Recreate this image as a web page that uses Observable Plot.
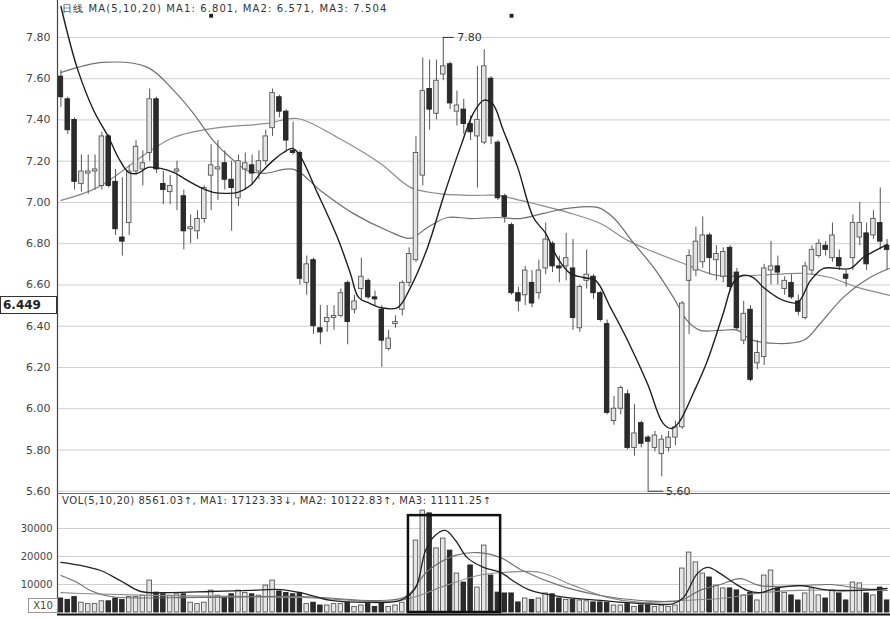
<!DOCTYPE html>
<html>
<head>
<meta charset="utf-8">
<script src="https://cdn.jsdelivr.net/npm/d3@7"></script>
<script src="https://cdn.jsdelivr.net/npm/@observablehq/plot@0.6"></script>
<style>
  html, body { margin: 0; padding: 0; background: #fff; }
  #wrap { position: relative; width: 890px; height: 620px; overflow: hidden; font-family: "DejaVu Sans", sans-serif; }
  #wrap svg { display: block; }
  .hdr { position: absolute; font-size: 10px; color: #333; white-space: nowrap; }
  .box { position: absolute; border: 1px solid #333; background: #fff; box-sizing: border-box; white-space: nowrap; }
</style>
</head>
<body>
<div id="wrap"></div>
<script>
// ---- price data (per trading day) ----
const opens  = [7.61,7.50,7.40,7.09,7.14,7.15,7.08,7.32,7.10,6.83, 6.90,7.15,7.16,7.24,7.50,7.09,7.05,7.15,7.03,6.87,
                6.86,6.92,7.13,7.16,7.19,7.11,7.02,7.16,7.18,7.15, 7.20,7.36,7.51,7.44,7.25,7.24,6.61,6.72,6.39,6.42,
                6.44,6.45,6.61,6.48,6.58,6.62,6.54,6.48,6.29,6.41, 6.48,6.61,6.72,7.13,7.55,7.43,7.62,7.67,7.44,7.45,
                7.38,7.32,7.29,7.60,7.29,7.03,6.89,6.56,6.55,6.61, 6.56,6.68,6.80,6.69,6.69,6.68,6.39,6.62,6.64,6.56,
                6.41,5.94,6.00,6.07,5.81,5.93,5.86,5.81,5.78,5.81, 5.86,5.91,6.62,6.67,6.71,6.84,6.72,6.64,6.78,6.66,
                6.33,6.48,6.22,6.25,6.67,6.69,6.58,6.61,6.52,6.44, 6.67,6.74,6.79,6.73,6.73,6.65,6.73,6.83,6.85,6.84,
                6.90,6.79];
const highs  = [7.64,7.51,7.41,7.23,7.23,7.23,7.34,7.33,7.16,7.12, 7.18,7.30,7.25,7.55,7.51,7.15,7.13,7.20,7.06,6.94,
                6.96,7.08,7.28,7.30,7.25,7.20,7.23,7.24,7.23,7.25, 7.35,7.55,7.52,7.45,7.39,7.25,6.74,6.73,6.50,6.50,
                6.50,6.58,6.62,6.55,6.73,6.63,6.57,6.50,6.38,6.45, 6.62,6.78,7.32,7.70,7.69,7.69,7.80,7.68,7.54,7.50,
                7.42,7.66,7.74,7.61,7.30,7.04,6.90,6.59,6.69,6.67, 6.72,6.90,6.81,6.74,6.85,6.82,6.60,6.77,6.65,6.57,
                6.43,6.06,6.11,6.09,6.02,5.94,5.87,5.89,5.87,5.89, 5.94,6.52,6.77,6.88,6.93,6.85,6.79,6.78,6.79,6.68,
                6.52,6.50,6.33,6.70,6.81,6.74,6.64,6.65,6.55,6.71, 6.79,6.82,6.81,6.90,6.77,6.67,6.94,7.00,6.90,6.96,
                7.07,6.82];
const lows   = [7.46,7.33,7.06,7.05,7.04,7.06,7.06,7.07,6.84,6.74, 6.84,7.13,7.08,7.20,7.14,6.99,6.99,6.96,6.77,6.80,
                6.82,6.90,6.96,7.01,7.06,6.86,6.98,7.06,7.09,7.11, 7.18,7.32,7.41,7.25,7.23,6.60,6.55,6.36,6.31,6.37,
                6.38,6.44,6.31,6.46,6.53,6.53,6.50,6.20,6.28,6.39, 6.45,6.59,6.71,7.08,7.35,7.40,7.59,7.45,7.37,7.33,
                7.30,7.07,7.28,7.28,7.01,6.90,6.55,6.47,6.50,6.49, 6.53,6.65,6.66,6.61,6.62,6.38,6.37,6.58,6.53,6.42,
                5.97,5.92,5.97,5.80,5.77,5.81,5.60,5.79,5.67,5.79, 5.82,5.90,6.36,6.64,6.68,6.65,6.62,6.61,6.57,6.38,
                6.31,6.13,6.19,6.21,6.60,6.60,6.55,6.53,6.45,6.43, 6.65,6.73,6.74,6.71,6.67,6.59,6.67,6.79,6.67,6.82,
                6.77,6.67];
const closes = [7.51,7.35,7.10,7.15,7.15,7.16,7.32,7.08,6.87,6.81, 7.15,7.27,7.19,7.50,7.16,7.06,7.08,7.16,6.86,6.88,
                6.92,7.07,7.18,7.17,7.11,7.07,7.20,7.19,7.14,7.20, 7.32,7.53,7.44,7.30,7.24,6.63,6.70,6.40,6.37,6.44,
                6.45,6.56,6.42,6.52,6.64,6.54,6.53,6.33,6.34,6.42, 6.61,6.75,7.24,7.54,7.45,7.59,7.66,7.48,7.47,7.38,
                7.34,7.40,7.66,7.32,7.02,6.93,6.56,6.52,6.67,6.51, 6.67,6.82,6.69,6.68,6.73,6.44,6.59,6.65,6.56,6.43,
                5.98,6.00,6.10,5.81,5.88,5.83,5.84,5.87,5.85,5.86, 5.91,6.51,6.74,6.81,6.84,6.73,6.75,6.76,6.59,6.39,
                6.46,6.14,6.27,6.68,6.69,6.66,6.62,6.54,6.47,6.69, 6.77,6.80,6.77,6.84,6.69,6.63,6.90,6.90,6.70,6.92,
                6.81,6.77];
const volumes = [5000,4500,5500,3500,3000,3000,4000,4000,5000,4500, 5500,5500,6000,11400,7100,6500,6000,6500,6500,3500,
                 3000,3500,7800,6000,5500,6500,7800,7000,6500,6000, 9600,11400,7500,7000,6500,7000,3000,3500,2500,2500,
                 3000,3000,3500,2000,2500,3000,2000,3500,2000,2500, 3500,6000,25700,36400,35400,22900,26400,22100,13900,10700,
                 16800,8900,23900,13200,7100,6800,6800,3600,5000,4500, 5000,6800,6500,5000,4500,4500,4300,4000,3600,3600,
                 3500,2500,2500,3000,2000,2500,2500,2000,2500,2000, 2500,15700,21400,17900,13900,12500,9600,8600,8600,7900,
                 6100,7100,4300,13200,15000,8600,7000,6100,4300,6800, 8600,6100,5000,7900,6800,4300,10700,10400,6800,6100,
                 8900,4300];

// ---- moving averages as drawn (day index, value) ----
const ma5 = [[0,7.95],[2.4,7.65],[4.8,7.446],[7.0,7.315],[8.4,7.218],[9.9,7.146],[11.2,7.141],[12.8,7.17],[14.6,7.165],
  [16.5,7.146],[18.5,7.107],[20.4,7.073],[22.3,7.049],[24.4,7.044],[25.9,7.049],[27.8,7.083],[29.2,7.141],[31.1,7.204],
  [32.6,7.242],[33.9,7.262],[34.8,7.238],[37.6,7.044],[40.5,6.83],[42.4,6.656],[43.6,6.54],[45.3,6.51],[46.8,6.49],
  [49.3,6.49],[51.2,6.588],[53.7,6.782],[56.0,7.024],[58.5,7.267],[60.4,7.432],[61.9,7.495],[63.2,7.48],[64.8,7.349],
  [66.9,7.17],[69.2,6.927],[71.0,6.85],[72.7,6.733],[74.6,6.656],[76.5,6.636],[78.3,6.622],[80.5,6.49],[83.0,6.331],
  [85.9,6.122],[88.2,5.929],[89.5,5.904],[90.7,5.943],[92.6,6.074],[94.7,6.234],[97.0,6.462],[98.5,6.612],[99.8,6.646],
  [101.4,6.636],[102.9,6.588],[105.8,6.525],[107.9,6.515],[109.8,6.622],[111.7,6.68],[115.6,6.68],[117.5,6.733],[121.0,6.796]];
const ma10 = [[0,7.63],[6.2,7.679],[12.7,7.655],[16.5,7.543],[19.4,7.432],[22.3,7.30],[24.8,7.218],[27.3,7.155],
  [29.7,7.141],[34.1,7.16],[38.0,7.058],[42.8,6.947],[47.8,6.864],[51.2,6.826],[53.7,6.879],[56.6,6.927],[60.0,6.922],
  [64.0,6.927],[67.3,6.922],[70.7,6.947],[74.2,6.971],[78.6,6.976],[80.9,6.927],[83.8,6.806],[86.8,6.685],[89.7,6.54],
  [91.7,6.428],[93.6,6.38],[96.6,6.38],[99.1,6.38],[101.4,6.331],[108.7,6.331],[111.2,6.413],[114.6,6.54],[118.5,6.636],[121.3,6.68]];
const ma20 = [[0,7.01],[5.4,7.073],[12.7,7.242],[16.5,7.315],[22.3,7.359],[30.2,7.383],[34.6,7.407],[40.5,7.315],
  [46.8,7.189],[51.2,7.073],[55.1,7.044],[60.0,7.034],[64.0,7.034],[67.3,7.01],[69.2,6.995],[74.2,6.952],[79.0,6.898],
  [83.0,6.816],[86.3,6.767],[91.2,6.704],[96.1,6.646],[101.4,6.646],[108.7,6.656],[112.7,6.636],[116.7,6.588],[121.5,6.549]];

const vma5 = [[0,17900],[2.9,16800],[5.8,15000],[8.7,11400],[11.7,7500],[16,7100],[21.9,7500],[27.8,7900],[32.1,8200],
  [35.1,7100],[39.5,4300],[45.3,3600],[49.7,4300],[51.9,8600],[53.4,22100],[54.8,27500],[56.3,29300],[57.8,25700],
  [59.5,19600],[61.9,16100],[64.4,14300],[66.6,10700],[68.8,7900],[73.1,5700],[79.0,4300],[84.9,3200],[89.7,3200],
  [91.2,5400],[93.2,13900],[94.7,16100],[96.6,13900],[98.5,10700],[100.5,7900],[102.4,7100],[104.6,8600],[108.3,9600],
  [112.7,7900],[117.1,7900],[121,8600]];
const vma10 = [[0,13200],[2.4,10700],[4.3,7900],[7.3,5700],[20.4,5400],[35.1,5700],[46.8,4300],[50.5,5700],[53.8,15000],
  [57.8,20400],[61.1,21400],[64.4,19600],[67.6,15000],[73.1,9600],[79,6100],[84.9,4300],[90.7,4300],[93.6,7900],
  [96.6,10000],[99.5,12100],[102.4,9600],[108.3,9600],[112.7,10000],[117.1,8600],[121,7900]];
const vma20 = [[0,7100],[2.9,6800],[13.1,6100],[35.1,5400],[49.7,4300],[56.3,9600],[61.1,13200],[64.7,14300],[70.2,14300],
  [75.1,9600],[80,5400],[84.9,3600],[90.7,4300],[96.6,5000],[102.9,7100],[108.3,7900],[121,7900]];

// ---- ticks & labels ----
const priceTicks = [5.6,5.8,6.0,6.2,6.4,6.6,6.8,7.0,7.2,7.4,7.6,7.8];
const volTicks = [10000,20000,30000];
const markerDays = [22,66];
const mainTitle = "日线 MA(5,10,20)  MA1: 6.801,  MA2: 6.571,  MA3: 7.504";
const volTitle = "VOL(5,10,20)  8561.03↑,  MA1:  17123.33↓,  MA2:  10122.83↑,  MA3:  11111.25↑";
const cursorLabel = "6.449";
const unitLabel = "X10";

// ---- build ----
const candles = opens.map((o, i) => ({i, o, h: highs[i], l: lows[i], c: closes[i], v: volumes[i], up: closes[i] >= o}));
const upC = candles.filter(d => d.up), dnC = candles.filter(d => !d.up);
const xDom = [-0.5, candles.length - 0.5];
const hiIdx = d3.maxIndex(highs), loIdx = d3.minIndex(lows);
const W = 0.33;
const P = d => d[1], X = d => d[0];

const main = Plot.plot({
  width: 890, height: 494,
  marginLeft: 57, marginRight: 0, marginTop: 0, marginBottom: 1,
  x: {domain: xDom, axis: null},
  y: {domain: [5.589, 7.979], label: null, axis: null},
  style: {fontFamily: "DejaVu Sans, sans-serif", background: "transparent", overflow: "visible"},
  marks: [
    Plot.ruleY(priceTicks, {stroke: "#cfcfcf", strokeWidth: 1}),
    Plot.line(ma20, {x: X, y: P, stroke: "#8c8c8c", strokeWidth: 1.2, curve: "catmull-rom"}),
    Plot.line(ma10, {x: X, y: P, stroke: "#6f6f6f", strokeWidth: 1.2, curve: "catmull-rom"}),
    Plot.ruleX(candles, {x: "i", y1: "l", y2: "h", stroke: "#555", strokeWidth: 1}),
    Plot.rect(upC, {x1: d => d.i - W, x2: d => d.i + W, y1: "o", y2: "c", fill: "#e4e4e4", stroke: "#555", strokeWidth: 0.9}),
    Plot.rect(dnC, {x1: d => d.i - W, x2: d => d.i + W, y1: "o", y2: "c", fill: "#2b2b2b", stroke: "#222", strokeWidth: 0.9}),
    Plot.line(ma5, {x: X, y: P, stroke: "#1e1e1e", strokeWidth: 1.4, curve: "catmull-rom"}),
    Plot.ruleY([highs[hiIdx]], {x1: hiIdx, x2: hiIdx + 1.6, stroke: "#333"}),
    Plot.text([highs[hiIdx]], {x: hiIdx, y: d => d, text: d => d.toFixed(2), dx: 14, textAnchor: "start", fontSize: 11, fill: "#333"}),
    Plot.ruleY([lows[loIdx]], {x1: loIdx, x2: loIdx + 2.3, stroke: "#333"}),
    Plot.text([lows[loIdx]], {x: loIdx, y: d => d, text: d => d.toFixed(2), dx: 18, textAnchor: "start", fontSize: 11, fill: "#333"}),
    Plot.dot(markerDays, {x: d => d, y: 7.905, symbol: "square", r: 2.2, fill: "#222"}),
    Plot.axisY(priceTicks, {tickSize: 0, tickPadding: 7, tickFormat: d => d.toFixed(2), fontSize: 11, fill: "#444", label: null}),
    Plot.ruleX([xDom[0]], {stroke: "#444", strokeWidth: 1.2}),
    Plot.ruleY([5.589], {stroke: "#666", strokeWidth: 1.2})
  ]
});

const vol = Plot.plot({
  width: 890, height: 126,
  marginLeft: 57, marginRight: 0, marginTop: 0, marginBottom: 8,
  x: {domain: xDom, axis: null},
  y: {domain: [0, 42143], label: null, axis: null},
  style: {fontFamily: "DejaVu Sans, sans-serif", background: "transparent", overflow: "visible"},
  marks: [
    Plot.ruleY(volTicks, {stroke: "#cfcfcf", strokeWidth: 1}),
    Plot.rectY(upC, {x1: d => d.i - W, x2: d => d.i + W, y: "v", fill: "#e6e6e6", stroke: "#555", strokeWidth: 0.9}),
    Plot.rectY(dnC, {x1: d => d.i - W, x2: d => d.i + W, y: "v", fill: "#2b2b2b", stroke: "#222", strokeWidth: 0.9}),
    Plot.line(vma20, {x: X, y: P, stroke: "#8c8c8c", strokeWidth: 1.1, curve: "catmull-rom"}),
    Plot.line(vma10, {x: X, y: P, stroke: "#6f6f6f", strokeWidth: 1.1, curve: "catmull-rom"}),
    Plot.line(vma5, {x: X, y: P, stroke: "#222", strokeWidth: 1.3, curve: "catmull-rom"}),
    Plot.rect([0], {x1: 50.9, x2: 64.4, y1: 0, y2: 34600, fill: "none", stroke: "#111", strokeWidth: 2.5}),
    Plot.axisY(volTicks, {tickSize: 0, tickPadding: 5, tickFormat: d => String(d), fontSize: 10, fill: "#444", label: null}),
    Plot.ruleX([xDom[0]], {stroke: "#444", strokeWidth: 1.2}),
    Plot.ruleY([0], {dy: 2, stroke: "#111", strokeWidth: 2.2})
  ]
});

const wrap = document.getElementById("wrap");
wrap.appendChild(main);
wrap.appendChild(vol);

function addDiv(cls, text, css) {
  const d = document.createElement("div");
  d.className = cls; d.textContent = text;
  Object.assign(d.style, css);
  wrap.appendChild(d);
}
addDiv("hdr", mainTitle, {left: "62px", top: "2px", letterSpacing: "1.1px"});
addDiv("hdr", volTitle, {left: "62px", top: "495px", letterSpacing: "0.55px"});
addDiv("box", cursorLabel, {left: "0px", top: "296px", width: "57px", height: "18px", fontWeight: "bold", fontSize: "12px", lineHeight: "16px", paddingLeft: "2px", color: "#222"});
addDiv("box", unitLabel, {left: "28px", top: "598px", width: "30px", height: "15px", fontSize: "10px", lineHeight: "13px", textAlign: "center", color: "#444", borderColor: "#999"});
</script>
</body>
</html>
